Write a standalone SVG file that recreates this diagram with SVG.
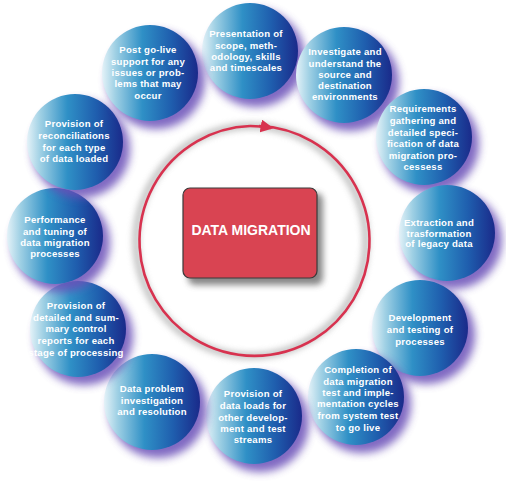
<svg xmlns="http://www.w3.org/2000/svg" width="506" height="482" viewBox="0 0 506 482">
<defs>
<linearGradient id="ball" x1="0" y1="0" x2="1" y2="0">
<stop offset="0" stop-color="#e4f2f8"/>
<stop offset="0.14" stop-color="#9fd0e4"/>
<stop offset="0.42" stop-color="#2f90c6"/>
<stop offset="0.72" stop-color="#1f5eae"/>
<stop offset="1" stop-color="#1a2a8a"/>
</linearGradient>
<filter id="blur" x="-30%" y="-30%" width="160%" height="160%"><feGaussianBlur stdDeviation="4.5"/></filter>
<filter id="blur2" x="-30%" y="-30%" width="160%" height="160%"><feGaussianBlur stdDeviation="3"/></filter>
<marker id="arr" viewBox="0 0 10 10" refX="8" refY="5" markerWidth="5" markerHeight="5" orient="auto" markerUnits="strokeWidth">
<path d="M0,0 L10,5 L0,10 z" fill="#d8324f"/>
</marker>
<g id="b">
<circle cx="6" cy="7" r="49" fill="#6a50b8" filter="url(#blur)" opacity="0.85"/>
<circle cx="0" cy="0" r="48" fill="url(#ball)"/>
</g>
</defs>
<style>
.t{font-family:"Liberation Sans",Arial,sans-serif;font-weight:bold;font-size:9.6px;letter-spacing:0.25px;fill:#ffffff;text-anchor:middle;}
.m{font-family:"Liberation Sans",Arial,sans-serif;font-weight:bold;font-size:14px;fill:#ffffff;text-anchor:middle;}
</style>
<rect width="506" height="482" fill="#ffffff"/>
<g id="connectors">
<circle cx="251" cy="241" r="115" fill="none" stroke="#9a9a9a" stroke-width="7" filter="url(#blur2)" opacity="0.6"/>
<path d="M 259 126 A 115 115 0 1 1 250 126" fill="none" stroke="#d8324f" stroke-width="2.6"/>
<path d="M 250 126 A 115 115 0 0 1 271 127.9" fill="none" stroke="#d8324f" stroke-width="2.6" marker-end="url(#arr)"/>
</g>
<g id="center">
<rect x="188" y="193" width="135" height="92" rx="7" fill="#555" filter="url(#blur2)" opacity="0.7"/>
<rect x="183" y="188" width="134" height="90" rx="7" fill="#d94452" stroke="#3a3a3a" stroke-width="1.2"/>
<text class="m" x="251" y="235">DATA MIGRATION</text>
</g>
<g id="n1"><use href="#b" x="250" y="51"/>
<text class="t"><tspan x="246" y="37">Presentation of</tspan><tspan x="246" y="49">scope, meth-</tspan><tspan x="246" y="60">odology, skills</tspan><tspan x="246" y="71">and timescales</tspan></text></g>
<g id="n2"><use href="#b" x="344" y="75"/>
<text class="t"><tspan x="345" y="55">Investigate and</tspan><tspan x="345" y="67">understand the</tspan><tspan x="345" y="78">source and</tspan><tspan x="345" y="89">destination</tspan><tspan x="345" y="100">environments</tspan></text></g>
<g id="n3"><use href="#b" x="424" y="137"/>
<text class="t"><tspan x="423" y="112">Requirements</tspan><tspan x="423" y="124">gathering and</tspan><tspan x="423" y="136">detailed speci-</tspan><tspan x="423" y="147">fication of data</tspan><tspan x="423" y="159">migration pro-</tspan><tspan x="423" y="170">cessess</tspan></text></g>
<g id="n4"><use href="#b" x="447" y="233"/>
<text class="t"><tspan x="439" y="226">Extraction and</tspan><tspan x="439" y="237">trasformation</tspan><tspan x="439" y="247">of legacy data</tspan></text></g>
<g id="n5"><use href="#b" x="420" y="328"/>
<text class="t"><tspan x="420" y="321">Development</tspan><tspan x="420" y="333">and testing of</tspan><tspan x="420" y="345">processes</tspan></text></g>
<g id="n6"><use href="#b" x="356" y="397"/>
<text class="t"><tspan x="358" y="373">Completion of</tspan><tspan x="358" y="385">data migration</tspan><tspan x="358" y="396">test and imple-</tspan><tspan x="358" y="407">mentation cycles</tspan><tspan x="358" y="419">from system test</tspan><tspan x="358" y="431">to go live</tspan></text></g>
<g id="n7"><use href="#b" x="254" y="416"/>
<text class="t"><tspan x="253" y="397">Provision of</tspan><tspan x="253" y="409">data loads for</tspan><tspan x="253" y="421">other develop-</tspan><tspan x="253" y="432">ment and test</tspan><tspan x="253" y="443">streams</tspan></text></g>
<g id="n8"><use href="#b" x="152" y="402"/>
<text class="t"><tspan x="152" y="392">Data problem</tspan><tspan x="152" y="404">investigation</tspan><tspan x="152" y="415">and resolution</tspan></text></g>
<g id="n9"><use href="#b" x="78" y="329"/>
<text class="t"><tspan x="76" y="309">Provision of</tspan><tspan x="76" y="321">detailed and sum-</tspan><tspan x="76" y="332">mary control</tspan><tspan x="76" y="344">reports for each</tspan><tspan x="76" y="356">stage of processing</tspan></text></g>
<g id="n10"><use href="#b" x="55" y="236"/>
<text class="t"><tspan x="55" y="223">Performance</tspan><tspan x="55" y="235">and tuning of</tspan><tspan x="55" y="246">data migration</tspan><tspan x="55" y="257">processes</tspan></text></g>
<g id="n11"><use href="#b" x="75" y="142"/>
<text class="t"><tspan x="74" y="127">Provision of</tspan><tspan x="74" y="139">reconciliations</tspan><tspan x="74" y="151">for each type</tspan><tspan x="74" y="162">of data loaded</tspan></text></g>
<g id="n12"><use href="#b" x="150" y="73"/>
<text class="t"><tspan x="148" y="53">Post go-live</tspan><tspan x="148" y="65">support for any</tspan><tspan x="148" y="76">issues or prob-</tspan><tspan x="148" y="87">lems that may</tspan><tspan x="148" y="99">occur</tspan></text></g>
</svg>
